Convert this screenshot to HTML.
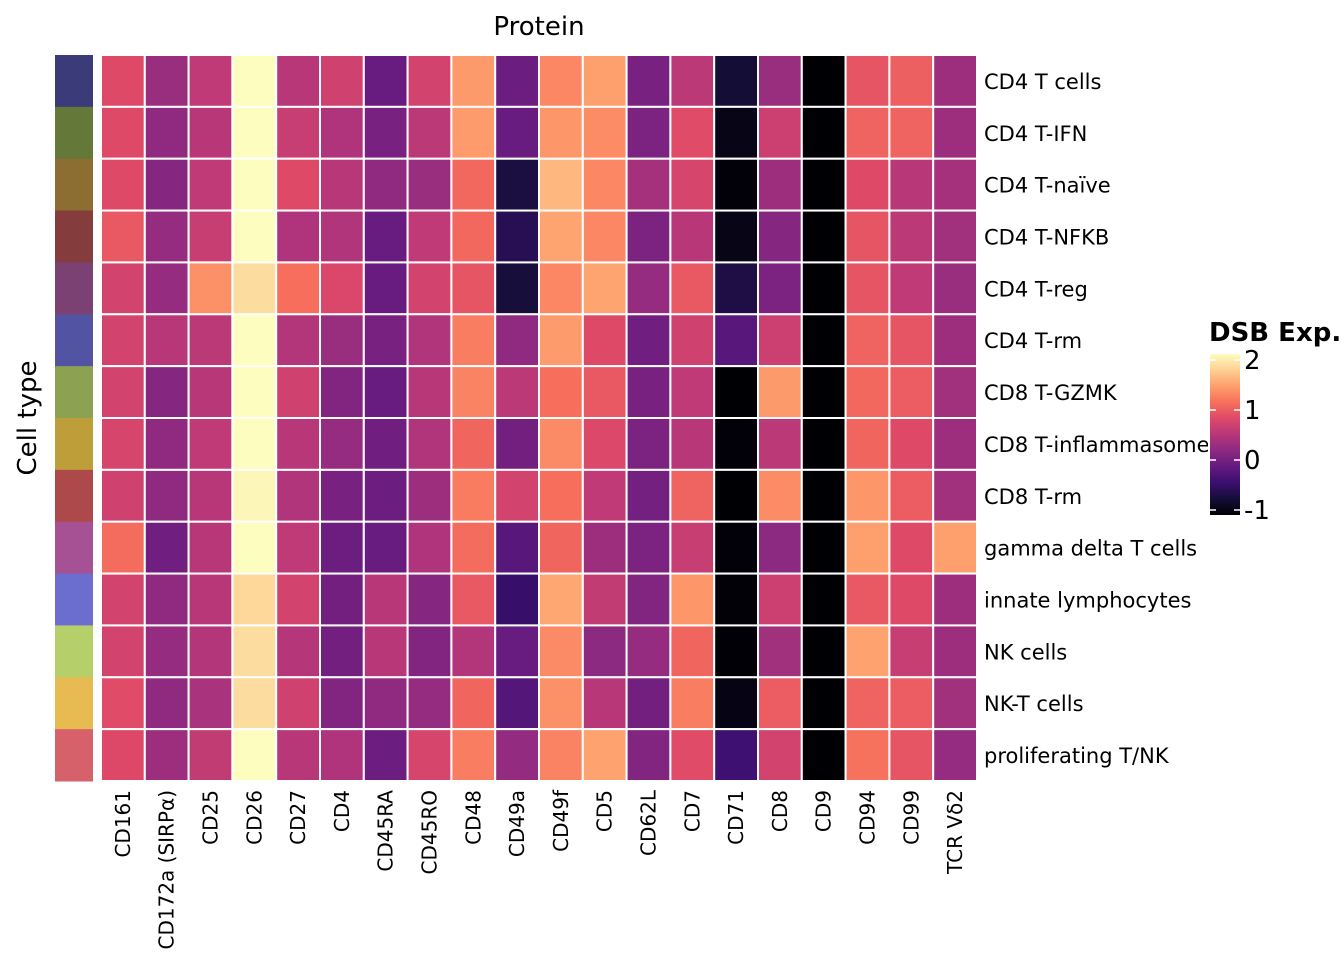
<!DOCTYPE html>
<html><head><meta charset="utf-8"><style>
html,body{margin:0;padding:0;background:#fff;}
svg{display:block;font-family:"DejaVu Sans","Liberation Sans",sans-serif;}
</style></head><body>
<svg id="chart" width="1344" height="960" viewBox="0 0 1344 960" xmlns="http://www.w3.org/2000/svg">
<text x="539" y="35" font-size="26" text-anchor="middle" fill="#000">Protein</text>
<text transform="translate(36,418) rotate(-90)" font-size="26" text-anchor="middle" fill="#000">Cell type</text>
<g id="cells"></g>
<g id="annot"></g>
<g id="rowlabels"></g>
<g id="collabels"></g>
<g id="legend"></g>
</svg>
<script>
const cellTypes = ["CD4 T cells","CD4 T-IFN","CD4 T-naïve","CD4 T-NFKB","CD4 T-reg","CD4 T-rm","CD8 T-GZMK","CD8 T-inflammasome","CD8 T-rm","gamma delta T cells","innate lymphocytes","NK cells","NK-T cells","proliferating T/NK"];
const proteins = ["CD161","CD172a (SIRPα)","CD25","CD26","CD27","CD4","CD45RA","CD45RO","CD48","CD49a","CD49f","CD5","CD62L","CD7","CD71","CD8","CD9","CD94","CD99","TCR Vδ2"];
const annotColors = ["#3b3b7a","#637839","#8c6d32","#843c3c","#7b4173","#5253a3","#8ca252","#bd9e39","#ad494a","#a55194","#6b6ecf","#b5cf6b","#e7ba52","#d6616b"];
const legendTicks = [-1,0,1,2];
const row01 = [0.87,0.35,0.62,2.12,0.56,0.75,-0.03,0.78,1.46,0.0,1.34,1.5,0.09,0.59,-0.69,0.35,-1,0.97,1.06,0.37];
const row02 = [0.87,0.28,0.56,2.12,0.68,0.5,0.09,0.59,1.47,-0.03,1.44,1.37,0.12,0.9,-0.88,0.72,-1,1.09,1.09,0.37];
const row03 = [0.87,0.19,0.62,2.12,0.87,0.56,0.28,0.35,1.12,-0.63,1.65,1.34,0.43,0.81,-0.97,0.37,-1,0.87,0.56,0.43];
const row04 = [1.0,0.31,0.68,2.12,0.5,0.52,-0.03,0.62,1.12,-0.53,1.53,1.34,0.12,0.56,-0.88,0.19,-1,0.97,0.59,0.4];
const row05 = [0.78,0.31,1.4,1.9,1.18,0.84,-0.03,0.78,0.97,-0.66,1.34,1.53,0.31,1.0,-0.6,0.12,-1,0.97,0.62,0.35];
const row06 = [0.78,0.56,0.6,2.12,0.53,0.35,0.09,0.52,1.28,0.28,1.47,0.87,0.03,0.75,-0.16,0.72,-1,1.09,0.97,0.37];
const row07 = [0.78,0.19,0.56,2.12,0.75,0.16,-0.03,0.56,1.31,0.59,1.18,1.0,0.09,0.62,-1,1.46,-1,1.12,1.03,0.4];
const row08 = [0.81,0.28,0.62,2.12,0.56,0.31,0.03,0.52,1.1,0.05,1.36,0.85,0.12,0.56,-0.97,0.59,-1,1.1,0.87,0.37];
const row09 = [0.75,0.28,0.56,2.08,0.52,0.09,0.0,0.37,1.26,0.78,1.18,0.62,0.06,1.09,-1,1.37,-1,1.44,1.03,0.4];
const row10 = [1.15,0.03,0.56,2.12,0.62,0.0,-0.03,0.5,1.15,-0.16,1.1,0.37,0.12,0.68,-0.97,0.25,-1,1.5,0.87,1.5];
const row11 = [0.78,0.28,0.56,1.87,0.78,0.05,0.56,0.19,1.0,-0.41,1.55,0.65,0.16,1.44,-0.98,0.72,-1,1.0,0.87,0.37];
const row12 = [0.78,0.31,0.53,1.9,0.55,0.05,0.56,0.16,0.53,-0.03,1.36,0.25,0.31,1.1,-0.99,0.4,-1,1.52,0.68,0.37];
const row13 = [0.9,0.28,0.46,1.9,0.75,0.16,0.28,0.31,1.1,-0.18,1.4,0.56,0.05,1.28,-0.9,1.03,-1,1.09,1.03,0.4];
const row14 = [0.86,0.37,0.65,2.12,0.56,0.5,0.0,0.8,1.28,0.3,1.31,1.52,0.16,0.9,-0.35,0.78,-1,1.2,0.97,0.31];
const values = [row01,row02,row03,row04,row05,row06,row07,row08,row09,row10,row11,row12,row13,row14];

const NS = "http://www.w3.org/2000/svg";
const X0 = 101, X1 = 977, Y0 = 55, Y1 = 781;
const VMIN = -1, VMAX = 2.12;
const magma = ["#000004","#140e36","#3b0f70","#641a80","#8c2981","#b73779","#de4968","#f7705c","#fe9f6d","#fecf92","#fcfdbf"];
function hex(c){return [parseInt(c.slice(1,3),16),parseInt(c.slice(3,5),16),parseInt(c.slice(5,7),16)];}
function colorOf(v){
  let t = (v - VMIN)/(VMAX - VMIN); t = Math.max(0, Math.min(1, t));
  const p = t*(magma.length-1), i = Math.min(Math.floor(p), magma.length-2), f = p - i;
  const a = hex(magma[i]), b = hex(magma[i+1]);
  return "rgb(" + a.map((x,k)=>Math.round(x+(b[k]-x)*f)).join(",") + ")";
}
const cw = (X1 - X0)/proteins.length, rh = (Y1 - Y0)/cellTypes.length;
function xPos(j){return X0 + j*cw;}
function yPos(i){return Y0 + i*rh;}
function mk(tag, attrs){const e=document.createElementNS(NS,tag); for(const k in attrs) e.setAttribute(k, attrs[k]); return e;}

const cells = document.getElementById("cells");
values.forEach((row,i)=>{
  row.forEach((v,j)=>{
    const r = mk("rect",{x:xPos(j),y:yPos(i),width:cw,height:rh,fill:colorOf(v),stroke:"#fff","stroke-width":2});
    
    
    cells.appendChild(r);
  });
});
const annot = document.getElementById("annot");
annotColors.forEach((c,i)=>{
  const r = mk("rect",{x:55,y:yPos(i),width:38,height:rh+0.5,fill:c});
  
  
  annot.appendChild(r);
});
const rl = document.getElementById("rowlabels");
cellTypes.forEach((n,i)=>{
  const t = mk("text",{x:984,y:yPos(i)+rh/2+8,"font-size":21,fill:"#000"});
  t.textContent = n;
  
  
  rl.appendChild(t);
});
const cl = document.getElementById("collabels");
proteins.forEach((n,j)=>{
  const cx = xPos(j)+cw/2+7;
  const t = mk("text",{transform:"translate("+cx+",790) rotate(-90)","font-size":20,"text-anchor":"end",fill:"#000"});
  t.textContent = n;
  
  
  cl.appendChild(t);
});
const lg = document.getElementById("legend");
const bg = mk("rect",{x:1208,y:312,width:136,height:210,fill:"#fff"});


lg.appendChild(bg);
const title = mk("text",{x:1209,y:341,"font-size":26,"font-weight":"bold",fill:"#000"});
title.textContent = "DSB Exp.";


lg.appendChild(title);
const LB_TOP = 354, LB_BOT = 515, LX = 1210, LW = 30;
function ly(v){return LB_BOT - 5 - (v - VMIN)*50;}
const defs = mk("defs",{});
const grad = mk("linearGradient",{id:"lgrad",x1:0,y1:1,x2:0,y2:0});
magma.forEach((c,k)=>{grad.appendChild(mk("stop",{offset:k/(magma.length-1),"stop-color":c}));});
defs.appendChild(grad); lg.appendChild(defs);
const bar = mk("rect",{x:LX,y:LB_TOP,width:LW,height:LB_BOT-LB_TOP,fill:"url(#lgrad)"});


lg.appendChild(bar);
legendTicks.forEach(v=>{
  const y = ly(v);
  [[LX,LX+6],[LX+LW-6,LX+LW]].forEach(s=>{
    const l = mk("line",{x1:s[0],x2:s[1],y1:y,y2:y,stroke:"#fff","stroke-width":1.5});
    
    
    lg.appendChild(l);
  });
  const t = mk("text",{x:1244,y:y+9,"font-size":26,fill:"#000"});
  t.textContent = v;
  
  
  lg.appendChild(t);
});
</script>
</body></html>
